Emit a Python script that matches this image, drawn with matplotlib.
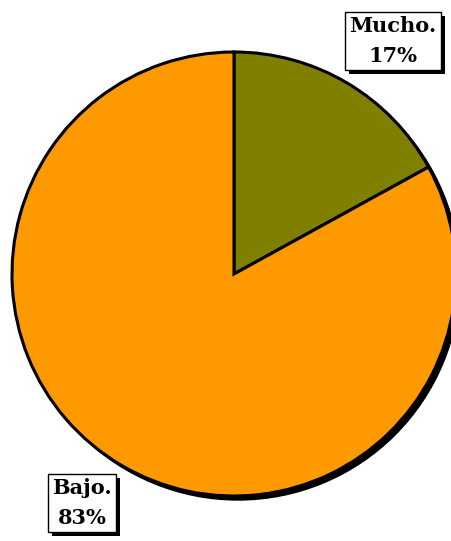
import matplotlib
matplotlib.use("Agg")
import matplotlib.pyplot as plt
import matplotlib.patheffects as pe
from matplotlib.patches import Circle
from matplotlib.transforms import offset_copy

labels = ["Mucho.", "Bajo."]
values = [17, 83]
colors = ["#808000", "#FF9900"]

fig = plt.figure(figsize=(4.51, 5.41), dpi=100)
ax = fig.add_axes([0, 0, 1, 1])

# sombra del pastel
sh = offset_copy(ax.transData, fig=fig, x=4, y=-4, units="dots")
ax.add_patch(Circle((0, 0), 1, facecolor="black", edgecolor="black", transform=sh, zorder=1))

wedges, _ = ax.pie(values, colors=colors, startangle=90, counterclock=False, radius=1,
                   wedgeprops=dict(edgecolor="black", linewidth=2.2))
for w in wedges:
    w.set_zorder(2)
ax.set_xlim(-234 / 222, 217 / 222)
ax.set_ylim(-267 / 222, 274 / 222)
ax.set_aspect("auto")
ax.axis("off")

pos = [((393 - 234) / 222, (274 - 41) / 222), ((82 - 234) / 222, (274 - 503) / 222)]
for lab, v, (x, y) in zip(labels, values, pos):
    t = ax.text(x, y, "%s\n%d%%" % (lab, v), family="DejaVu Serif", fontsize=15,
                fontweight="bold", ha="center", va="center", linespacing=1.6, zorder=4,
                bbox=dict(boxstyle="square,pad=0.2", facecolor="white", edgecolor="black", linewidth=1))
    t.get_bbox_patch().set_path_effects([
        pe.SimplePatchShadow(offset=(3, -3), shadow_rgbFace="black", alpha=1.0),
        pe.Normal()])

fig.savefig("out.png", dpi=100)
